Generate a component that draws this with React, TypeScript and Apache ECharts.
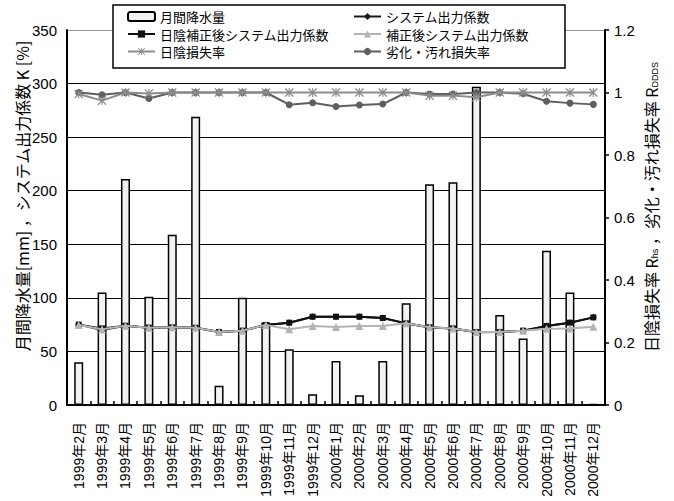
import React, { useEffect, useRef } from "react";
import * as echarts from "echarts";

const categories = [
  "1999年2月", "1999年3月", "1999年4月", "1999年5月", "1999年6月", "1999年7月",
  "1999年8月", "1999年9月", "1999年10月", "1999年11月", "1999年12月",
  "2000年1月", "2000年2月", "2000年3月", "2000年4月", "2000年5月", "2000年6月",
  "2000年7月", "2000年8月", "2000年9月", "2000年10月", "2000年11月", "2000年12月",
];

const precipitation = [40, 105, 211, 101, 159, 269, 18, 100, 77, 52, 10, 41, 9, 41, 95, 206, 208, 297, 84, 62, 144, 105, 1];

const systemK = [75, 70.0, 74, 72.2, 72.5, 72, 68.1, 69.4, 74.7, 76.8, 82.4, 82.4, 82.4, 81.2, 76.2, 72.3, 71.3, 68.0, 68.1, 69.4, 73.7, 76.8, 81.8];
const shadeCorrectedK = [75, 71.5, 74, 72.2, 72.5, 72, 68.1, 69.4, 74.7, 76.8, 82.4, 82.4, 82.4, 81.2, 76.2, 72.5, 71.5, 68.1, 68.1, 69.4, 73.7, 76.8, 81.8];
const correctedK = [74.7, 70.6, 74, 72.2, 72.5, 72, 68.1, 69.4, 74.7, 70.6, 73.7, 72.8, 73.7, 73.7, 76.2, 72.5, 71.5, 68.1, 68.1, 69.4, 71.2, 71.5, 73.1];

const shadeLossRate = [0.995, 0.974, 1, 0.997, 1, 1, 1, 1, 1, 1, 1, 1, 1, 1, 1, 0.99, 0.99, 0.985, 1, 1, 1, 1, 1];
const degradationLossRate = [1.0, 0.993, 1.0, 0.981, 1, 1, 1, 1, 1, 0.961, 0.967, 0.955, 0.96, 0.963, 1.0, 0.995, 0.995, 1.0, 1.0, 0.996, 0.972, 0.966, 0.962];

const leftTicks = { min: 0, max: 350, interval: 50 };
const rightTicks = { min: 0, max: 1.2, interval: 0.2 };

const JP = "'Liberation Sans', Arial, 'Noto Sans CJK JP', sans-serif";
const XMARK = "path://M0,1L1,0L5,4L9,0L10,1L6,5L10,9L9,10L5,6L1,10L0,9L4,5Z M4.4,0L5.6,0L5.6,10L4.4,10Z";

export default function App() {
  const ref = useRef<HTMLDivElement>(null);
  useEffect(() => {
    if (!ref.current) return;
    const chart = echarts.init(ref.current, null, { renderer: "svg" });
    const legendText = { fontSize: 13, fontFamily: "'Noto Sans CJK JP', sans-serif", color: "#000", lineHeight: 15 };
    const legendBase = {
      z: 10,
      orient: "vertical",
      top: 9,
      padding: 0,
      itemGap: 2.5,
      itemWidth: 27,
      itemHeight: 9,
      textStyle: legendText,
    };
    chart.setOption({
      animation: false,
      backgroundColor: "#fff",
      grid: { left: 67, right: 69, top: 30, bottom: 96, containLabel: false },
      legend: [
        { ...legendBase, left: 127, data: ["月間降水量", "日陰補正後システム出力係数", "日陰損失率"] },
        { ...legendBase, left: 353, data: ["システム出力係数", "補正後システム出力係数", "劣化・汚れ損失率"] },
      ],
      graphic: [
        {
          type: "rect",
          z: 5,
          shape: { x: 113, y: 5, width: 452, height: 63 },
          style: { fill: "#fff", stroke: "#000", lineWidth: 1.5 },
        },
        {
          type: "text",
          x: 22,
          y: 196,
          rotation: Math.PI / 2,
          style: {
            text: "月間降水量[mm] ，システム出力係数 K [%]",
            font: "16px 'Noto Sans CJK JP', sans-serif",
            fill: "#000",
            align: "center",
            verticalAlign: "middle",
          },
        },
        {
          type: "text",
          x: 651,
          y: 207,
          rotation: Math.PI / 2,
          style: {
            text: "日陰損失率 R{s|hs} ，劣化・汚れ損失率 R{s|DDDS}",
            fontSize: 16,
            fontFamily: "'Noto Sans CJK JP', sans-serif",
            fill: "#000",
            align: "center",
            verticalAlign: "middle",
            rich: {
              s: { fontSize: 9, fontFamily: "'Liberation Sans', sans-serif", verticalAlign: "bottom", padding: [6, 0, 0, 0] },
            },
          },
        },
      ],
      xAxis: {
        type: "category",
        data: categories,
        boundaryGap: true,
        axisLine: { lineStyle: { color: "#000", width: 2 } },
        axisTick: { show: true, inside: true, length: 4, lineStyle: { color: "#000", width: 1.5 } },
        axisLabel: { rotate: 90, interval: 0, margin: 17, fontSize: 14, fontFamily: JP, color: "#000" },
        splitLine: { show: false },
      },
      yAxis: [
        {
          type: "value",
          ...leftTicks,
          axisLine: { show: true, lineStyle: { color: "#000", width: 2 } },
          axisTick: { show: false },
          axisLabel: { fontSize: 15, fontFamily: JP, color: "#000", margin: 10 },
          splitLine: {
            show: true,
            lineStyle: { color: ["#000", "#000", "#000", "#000", "#000", "#000", "#000", "#999"], width: 1.2 },
          },
        },
        {
          type: "value",
          ...rightTicks,
          position: "right",
          axisLine: { show: true, lineStyle: { color: "#000", width: 2 } },
          axisTick: { show: true, inside: false, length: 4, lineStyle: { color: "#000", width: 1.5 } },
          axisLabel: { fontSize: 15, fontFamily: JP, color: "#000", margin: 9 },
          splitLine: { show: false },
        },
      ],
      series: [
        {
          name: "月間降水量",
          type: "bar",
          yAxisIndex: 0,
          data: precipitation,
          barWidth: 9,
          itemStyle: { color: "#f2f2f2", borderColor: "#000", borderWidth: 1.5 },
          z: 2,
        },
        {
          name: "システム出力係数",
          type: "line",
          yAxisIndex: 0,
          data: systemK,
          symbol: "diamond",
          symbolSize: 7,
          lineStyle: { color: "#1a1a1a", width: 2 },
          itemStyle: { color: "#1a1a1a" },
          z: 3,
        },
        {
          name: "日陰補正後システム出力係数",
          type: "line",
          yAxisIndex: 0,
          data: shadeCorrectedK,
          symbol: "rect",
          symbolSize: 6,
          lineStyle: { color: "#111", width: 2 },
          itemStyle: { color: "#111" },
          z: 4,
        },
        {
          name: "補正後システム出力係数",
          type: "line",
          yAxisIndex: 0,
          data: correctedK,
          symbol: "triangle",
          symbolSize: 8,
          lineStyle: { color: "#b3b3b3", width: 2 },
          itemStyle: { color: "#b3b3b3" },
          z: 5,
        },
        {
          name: "劣化・汚れ損失率",
          type: "line",
          yAxisIndex: 1,
          data: degradationLossRate,
          symbol: "circle",
          symbolSize: 7,
          lineStyle: { color: "#5e5e5e", width: 2 },
          itemStyle: { color: "#5e5e5e" },
          z: 5,
        },
        {
          name: "日陰損失率",
          type: "line",
          yAxisIndex: 1,
          data: shadeLossRate,
          symbol: XMARK,
          symbolSize: 9,
          lineStyle: { color: "#8c8c8c", width: 2 },
          itemStyle: { color: "#8c8c8c" },
          z: 6,
        },
      ],
    });
    return () => chart.dispose();
  }, []);
  return <div ref={ref} style={{ width: 674, height: 501, position: "absolute", left: 0, top: 0 }} />;
}
